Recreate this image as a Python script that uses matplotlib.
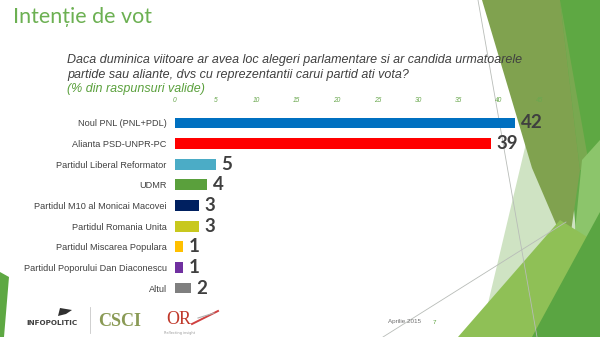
import matplotlib
matplotlib.use("Agg")
import matplotlib.pyplot as plt
from matplotlib.patches import Polygon
from matplotlib.lines import Line2D

categories = ["Noul PNL (PNL+PDL)", "Alianta PSD-UNPR-PC", "Partidul Liberal Reformator",
              "UDMR", "Partidul M10 al Monicai Macovei", "Partidul Romania Unita",
              "Partidul Miscarea Populara", "Partidul Poporului Dan Diaconescu", "Altul"]
values = [42, 39, 5, 4, 3, 3, 1, 1, 2]
colors = ["#0070C0", "#FF0000", "#4BACC6", "#5AA03C", "#002060", "#C8C81E",
          "#FFC000", "#7030A0", "#7F7F7F"]
xticks = [0, 5, 10, 15, 20, 25, 30, 35, 40, 45]

W, H = 600, 337
fig = plt.figure(figsize=(6, 3.37), dpi=100)
fig.patch.set_facecolor("white")

def px(x, y):
    return (x / W, 1 - y / H)

def poly(pts, color, alpha=1.0, z=0):
    p = Polygon([px(x, y) for x, y in pts], closed=True, transform=fig.transFigure,
                facecolor=color, edgecolor="none", alpha=alpha, zorder=z)
    fig.add_artist(p)

def line(p1, p2, color="#b8bcb8", lw=0.6, z=0.5):
    a, b = px(*p1), px(*p2)
    fig.add_artist(Line2D([a[0], b[0]], [a[1], b[1]], transform=fig.transFigure,
                          color=color, lw=lw, zorder=z))

# decorative background shapes
poly([(528, 135), (480, 337), (600, 337), (600, 130)], "#cfe3c3", z=0.1)
poly([(556, 0), (600, 0), (600, 337), (585, 337)], "#62aa48", z=0.2)
poly([(560, 0), (600, 0), (600, 150), (590, 175)], "#5ea843", z=0.25)
poly([(482, 0), (560, 0), (580, 170), (568, 252), (532, 168)], "#80a24f", z=0.3)
poly([(560, 0), (590, 170), (580, 170)], "#79a850", z=0.31)
poly([(582, 160), (600, 140), (600, 255), (572, 262)], "#8cc56b", z=0.32)
poly([(458, 337), (560, 220), (592, 240), (540, 337)], "#8fc056", z=0.35)
poly([(532, 337), (600, 212), (600, 337)], "#5aa542", z=0.4)
poly([(0, 272), (9, 277), (4, 337), (0, 337)], "#5ea843", z=0.4)
line((478, 0), (537, 337))
line((566, 222), (383, 337))

# title and question
fig.text(13 / W, 1 - 17 / H, "Intenție de vot", fontsize=15.5, color="#6cb052",
         family="Lato", fontweight="normal", va="center", ha="left", zorder=3)
q = ("Daca duminica viitoare ar avea loc alegeri parlamentare si ar candida urmatoarele",
     "partide sau aliante, dvs cu reprezentantii carui partid ati vota?")
fig.text(67 / W, 1 - 60 / H, q[0], fontsize=9.0, style="italic", color="#404040",
         family="Liberation Sans", va="center", zorder=3)
fig.text(67 / W, 1 - 75 / H, q[1], fontsize=9.0, style="italic", color="#404040",
         family="Liberation Sans", va="center", zorder=3)
fig.text(67 / W, 1 - 89 / H, "(% din raspunsuri valide)", fontsize=9.0, style="italic",
         color="#5aa03c", family="Liberation Sans", va="center", zorder=3)

# chart
top_px, bot_px = 112.6, 298.4
ax = fig.add_axes([175 / W, 1 - bot_px / H, 364.5 / W, (bot_px - top_px) / H])
ax.set_zorder(2)
ax.set_facecolor("none")
ypos = list(range(len(categories)))
ax.barh(ypos, values, height=0.52, color=colors, zorder=3)
ax.set_xlim(0, 45)
ax.set_ylim(len(categories) - 0.5, -0.5)
for s in ax.spines.values():
    s.set_visible(False)
ax.xaxis.tick_top()
ax.set_xticks(xticks)
ax.set_xticklabels([str(t) for t in xticks], fontsize=4.8, style="italic",
                   color="#6aa84f", family="Liberation Sans")
ax.tick_params(axis="x", length=0, pad=6)
ax.set_yticks(ypos)
ax.set_yticklabels(categories, fontsize=6.6, color="#404040", family="Liberation Sans")
ax.tick_params(axis="y", length=0, pad=6)
for y, v in zip(ypos, values):
    ax.annotate(str(v), (v, y), xytext=(3.8, 0), textcoords="offset points",
                fontsize=13.5, fontweight="bold", color="#3f3f3f", family="Lato",
                va="center", ha="left", zorder=5)

# footer
fig.text(52 / W, 1 - 323 / H, "INFOPOLITIC", fontsize=5.2, fontweight="bold",
         color="#404040", family="Liberation Sans Narrow",
         ha="center", va="center", zorder=3)
poly([(60, 308), (72, 310), (66, 314), (58, 316)], "#303030", z=1)
line((90, 307), (90, 333), color="#c8c8c8", lw=0.6, z=1)
fig.text(120 / W, 1 - 321 / H, "CSCI", fontsize=13, color="#8a9a55", fontweight="bold",
         family="Liberation Serif", ha="center", va="center", zorder=3)
fig.text(179 / W, 1 - 319 / H, "OR", fontsize=13, color="#c0392b",
         family="Liberation Serif", ha="center", va="center", zorder=3)
line((192, 324), (218, 311), color="#d04040", lw=1.4, z=1)
line((198, 318), (214, 313), color="#b0b0b0", lw=0.8, z=1)
fig.text(180 / W, 1 - 333 / H, "Reflecting insight", fontsize=2.5, color="#999999",
         ha="center", va="center", zorder=3)
fig.text(388 / W, 1 - 322 / H, "Aprilie 2015", fontsize=4.5, color="#707070",
         family="Liberation Sans", ha="left", va="center", zorder=3)
fig.text(433 / W, 1 - 322 / H, "7", fontsize=4.5, color="#5aa03c",
         family="Liberation Sans", ha="left", va="center", zorder=3)

fig.savefig("out.png", dpi=100)
